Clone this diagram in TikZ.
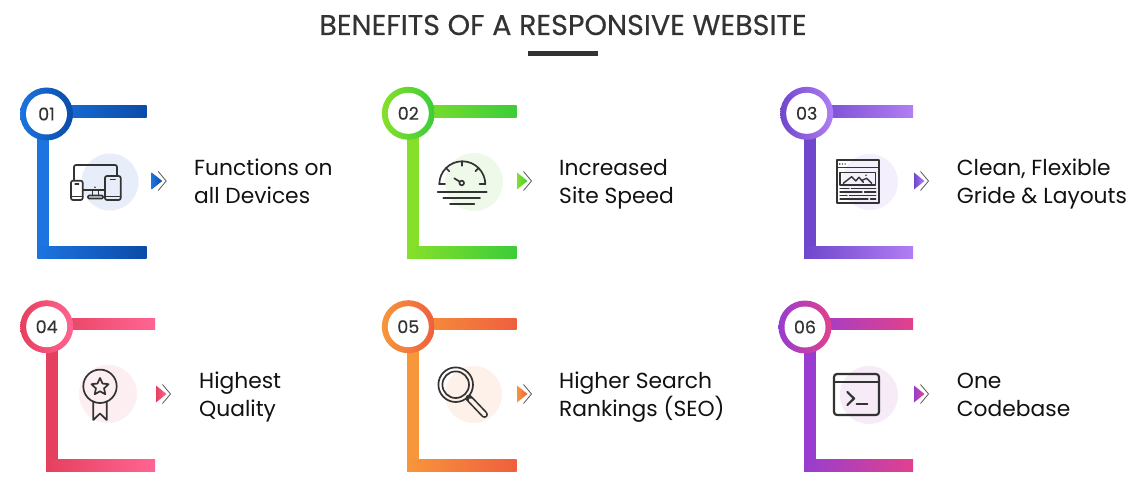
\documentclass[tikz,border=0pt]{standalone}
\usepackage{fontspec}
\setmainfont{Poppins}
\newfontfamily\titlefont{Poppins}[FakeBold=0.35]
\usetikzlibrary{shapes.geometric}
\definecolor{txt}{HTML}{111111}
\definecolor{dark}{HTML}{333333}
\definecolor{c1a}{HTML}{1C74E0}\definecolor{c1b}{HTML}{0B4BA8}\definecolor{c1l}{HTML}{E7EEF9}
\definecolor{c2a}{HTML}{86E02A}\definecolor{c2b}{HTML}{3CCC3A}\definecolor{c2l}{HTML}{EEF9E9}
\definecolor{c3a}{HTML}{6F47CC}\definecolor{c3b}{HTML}{B17EF3}\definecolor{c3l}{HTML}{F3EFFC}
\definecolor{c4a}{HTML}{E5405E}\definecolor{c4b}{HTML}{FF6592}\definecolor{c4l}{HTML}{FDEEF1}
\definecolor{c5a}{HTML}{F7963A}\definecolor{c5b}{HTML}{EF5F3E}\definecolor{c5l}{HTML}{FDF1EA}
\definecolor{c6a}{HTML}{983DCF}\definecolor{c6b}{HTML}{E2418D}\definecolor{c6l}{HTML}{F6EBF6}
\tikzset{
  numcircle/.style={circle, fill=white, minimum size=41pt, inner sep=0pt, font=\titlefont\fontsize{17.5}{17.5}\selectfont, text=dark},
  benefit/.style={anchor=base west, align=left, font=\fontsize{21.8}{28}\selectfont, text=txt, inner sep=0pt},
  iconline/.style={draw=dark, line width=1.7pt, line cap=round, line join=round},
  chev/.style={draw=black!65, line width=0.8pt},
}
\newcommand\benefitcard[9]{%
  \fill[#7a] ({#1},{#3+5}) rectangle ({#1+12},{#4-5});
  \shade[left color=#7a,right color=#7b] ({#1},{#3}) rectangle ({#2},{#3+11.5});
  \shade[left color=#7a,right color=#7b] ({#1},{#4-12}) rectangle ({#2},{#4});
  \shade[left color=#7a,right color=#7b] (#5,#6) circle (26.5);
  \node[numcircle] (num#9) at (#5,#6) {#8};
}
\newcommand\benefitarrow[3]{%
  \shade[left color=#3a,right color=#3b] ({#1},{#2-8.5}) -- ({#1+10.5},{#2}) -- ({#1},{#2+8.5}) -- cycle;
  \draw[chev] ({#1+6.5},{#2-9.5}) -- ({#1+14.5},{#2}) -- ({#1+6.5},{#2+9.5});
}
\begin{document}
\begin{tikzpicture}[x=1pt,y=-1pt]
\fill[white] (0,0) rectangle (1144,492);
\useasboundingbox (0,0) rectangle (1144,492);
% title
\node[font=\titlefont\fontsize{28.6}{28.6}\selectfont, text=dark, anchor=base, inner sep=0pt] (title) at (563,35) {BENEFITS OF A RESPONSIVE WEBSITE};
\fill[dark] (528,51) rectangle (598,56.5);
% cards
\benefitcard{37.3}{146.7}{106}{258}{46.5}{114}{c1}{01}{a}
\benefitcard{407}{516.7}{106}{258}{408.3}{113.3}{c2}{02}{b}
\benefitcard{804}{913}{106}{258}{806.7}{113.3}{c3}{03}{c}
\benefitcard{46}{155}{318.3}{471}{46.7}{326.7}{c4}{04}{d}
\benefitcard{407}{516.7}{318.3}{471}{408.3}{326.7}{c5}{05}{e}
\benefitcard{804}{913}{318.3}{471}{805}{327}{c6}{06}{f}
% arrows
\benefitarrow{151.7}{181}{c1}
\benefitarrow{517}{181}{c2}
\benefitarrow{914}{181}{c3}
\benefitarrow{156}{394}{c4}
\benefitarrow{517}{394}{c5}
\benefitarrow{914}{394}{c6}
% texts (anchor at baseline of the last line)
\node[benefit] (t1) at (194,203.5) {Functions on\\all Devices};
\node[benefit] (t2) at (559,203.5) {Increased\\Site Speed};
\node[benefit] (t3) at (956.7,203.5) {Clean, Flexible\\Gride \& Layouts};
\node[benefit] (t4) at (199,416.3) {Highest\\Quality};
\node[benefit] (t5) at (559,416.3) {Higher Search\\Rankings (SEO)};
\node[benefit] (t6) at (956.7,416.3) {One\\Codebase};
% icon 1: devices
\fill[c1l] (110,182) circle (28.5);
\draw[iconline, rounded corners=2] (74,180) -- (74,165) -- (117,165) -- (117,176);
\draw[iconline] (83,190) -- (105,190);
\fill[dark] (95,187.3) circle (0.9);
\draw[iconline] (92.5,190) -- (92.5,195.5) (98.5,190) -- (98.5,195.5);
\draw[iconline, rounded corners=1] (88,195.5) rectangle (103,198.5);
\draw[iconline, rounded corners=2] (71,180.7) rectangle (82.7,200);
\draw[iconline, line width=1.2pt] (75,184) -- (78.7,184) (71,196.5) -- (82.7,196.5);
\draw[iconline, rounded corners=2] (105,176) rectangle (120.7,200);
\draw[iconline, line width=1.2pt] (110.5,179.5) -- (115.2,179.5) (105,196.5) -- (120.7,196.5);
% icon 2: speedometer
\fill[c2l] (474,182) circle (29);
\draw[iconline] (439.3,184.3) arc[start angle=180, end angle=360, radius=23];
\draw[iconline] (439.3,184.3) -- (445,184.3) (485.3,184.3) -- (479.6,184.3);
\draw[iconline] ([shift={(462.3,184.3)}]225:23) -- ([shift={(462.3,184.3)}]225:18.5);
\draw[iconline] ([shift={(462.3,184.3)}]270:23) -- ([shift={(462.3,184.3)}]270:18.5);
\draw[iconline] ([shift={(462.3,184.3)}]315:23) -- ([shift={(462.3,184.3)}]315:18.5);
\draw[iconline] (461.7,183) -- (454.3,178.3);
\draw[iconline, fill=white] (461.7,183) circle (2.3);
\draw[iconline] (437.7,191.7) -- (486.7,191.7);
\draw[iconline] (443.3,197.7) -- (480,197.7);
\draw[iconline] (450,204.3) -- (474.3,204.3);
% icon 3: layout
\fill[c3l] (870,182) circle (28);
\draw[iconline, line width=1.6pt] (836.7,160) rectangle (879,203.3);
\draw[iconline, line width=1.3pt] (836.7,167.7) -- (879,167.7);
\fill[dark] (839.7,164) circle (0.8) (842.4,164) circle (0.8) (845.1,164) circle (0.8);
\draw[iconline, line width=1.4pt] (840,172.3) rectangle (875.7,185);
\draw[iconline, line width=1.4pt] (843.3,183.3) -- (851.7,176.7) -- (855.7,181) -- (859,177.3) -- (863.3,182.3);
\draw[iconline, line width=1.4pt] (861.5,180.5) -- (866.7,178.3) -- (871.7,183.3);
\fill[dark] (866,175.3) circle (0.9);
\draw[iconline, line width=1.3pt] (840,188.5) -- (849,188.5) (851.5,188.5) -- (875.7,188.5);
\draw[iconline, line width=1.3pt] (840,192) -- (862,192) (864.5,192) -- (875.7,192);
\draw[iconline, line width=1.3pt] (840,195.5) -- (847,195.5) (849.5,195.5) -- (875.7,195.5);
\draw[iconline, line width=1.3pt] (840,199) -- (868,199) (870.5,199) -- (875.7,199);
% icon 4: badge
\fill[c4l] (108,394) circle (29);
\draw[iconline] (100,386.3) circle (16.7);
\node[star, star points=5, star point ratio=2.1, draw=dark, line width=1.7pt, line join=round, minimum size=18pt, inner sep=0pt] (star4) at (100,387) {};
\draw[iconline] (93.3,401.5) -- (93.3,420) -- (100,413.5) -- (106.7,420) -- (106.7,401.5);
% icon 5: magnifier
\fill[c5l] (473.5,394.5) circle (28.5);
\draw[iconline] (455.7,384.7) circle (17.3);
\draw[iconline] (455.7,384.7) circle (13.3);
\draw[dark, line width=7pt, line cap=round] (469,398.2) -- (484.5,414.5);
\draw[c5l, line width=3.6pt, line cap=round] (470.5,399.8) -- (484.5,414.5);
% icon 6: terminal
\fill[c6l] (869,395) circle (29);
\draw[iconline, line width=2.2pt, rounded corners=3] (834,374) rectangle (879,415);
\draw[iconline, line width=2.2pt] (834,382.3) -- (879,382.3);
\draw[iconline, line width=2.2pt] (847.3,392) -- (854,398.5) -- (847.3,405);
\draw[iconline, line width=2.2pt] (856.7,404.3) -- (867.3,404.3);
\end{tikzpicture}
\end{document}
